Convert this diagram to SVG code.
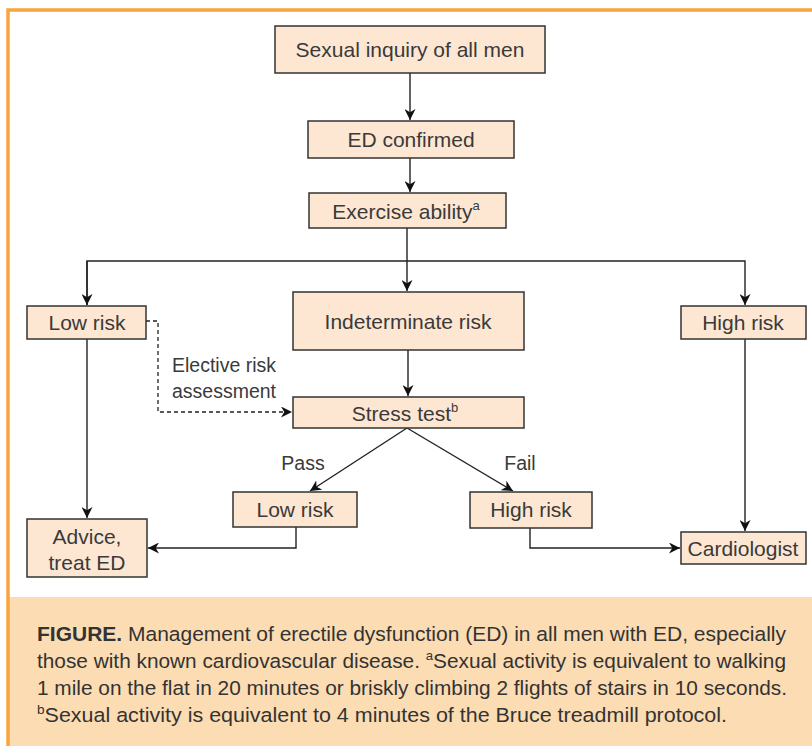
<svg xmlns="http://www.w3.org/2000/svg" width="812" height="746" viewBox="0 0 812 746">
<defs>
<style>
.box{fill:#fde7d2;stroke:#333;stroke-width:1.5}
.t{font-family:"Liberation Sans",Arial,sans-serif;font-size:21px;fill:#3a3a3a;text-anchor:middle}
.lbl{font-family:"Liberation Sans",Arial,sans-serif;font-size:19.5px;fill:#3a3a3a}
.ln{fill:none;stroke:#222;stroke-width:1.4}
.dash{fill:none;stroke:#222;stroke-width:1.3;stroke-dasharray:4 3}
.cap{font-family:"Liberation Sans",Arial,sans-serif;font-size:20.5px;fill:#333}
.sup{font-size:13px}
</style>
<marker id="ah" viewBox="0 0 10 10" refX="10" refY="5" markerWidth="11" markerHeight="11" markerUnits="userSpaceOnUse" orient="auto">
<path d="M0,0 L10,5 L0,10 L3,5 Z" fill="#111"/>
</marker>
</defs>
<rect x="0" y="0" width="812" height="746" fill="#fff"/>
<rect x="9" y="597" width="803" height="149" fill="#fcdcb3"/>
<path d="M8,746 L8,10 L812,10" fill="none" stroke="#f9a43e" stroke-width="3.5"/>

<g id="connectors">
<line class="ln" x1="410" y1="73" x2="410" y2="120" marker-end="url(#ah)"/>
<line class="ln" x1="410" y1="158" x2="410" y2="192" marker-end="url(#ah)"/>
<line class="ln" x1="407" y1="228" x2="407" y2="291" marker-end="url(#ah)"/>
<polyline class="ln" points="87,305 87,261 745,261 745,305" marker-end="url(#ah)"/>
<line class="ln" x1="87" y1="261" x2="87" y2="305" marker-end="url(#ah)"/>
<line class="ln" x1="408" y1="350" x2="408" y2="396" stroke-width="2" marker-end="url(#ah)"/>
<polyline class="dash" points="146,321 158,321 158,412 292,412" marker-end="url(#ah)"/>
<polyline class="ln" points="407,428 310,491" marker-end="url(#ah)"/>
<polyline class="ln" points="407,428 513,491" marker-end="url(#ah)"/>
<line class="ln" x1="87" y1="339" x2="87" y2="518" marker-end="url(#ah)"/>
<line class="ln" x1="745" y1="339" x2="745" y2="531" marker-end="url(#ah)"/>
<polyline class="ln" points="296,527 296,548 148,548" marker-end="url(#ah)"/>
<polyline class="ln" points="530,528 530,548 680,548" marker-end="url(#ah)"/>
</g>

<g id="n_inquiry"><rect class="box" x="275" y="26" width="270" height="47"/><text class="t" x="410" y="57">Sexual inquiry of all men</text></g>
<g id="n_confirmed"><rect class="box" x="308" y="121" width="206" height="37"/><text class="t" x="411" y="147">ED confirmed</text></g>
<g id="n_exercise"><rect class="box" x="309" y="193" width="197" height="35"/><text class="t" x="406" y="219">Exercise ability<tspan class="sup" dy="-9">a</tspan></text></g>
<g id="n_lowrisk"><rect class="box" x="27" y="306" width="119" height="33"/><text class="t" x="87" y="330">Low risk</text></g>
<g id="n_indet"><rect class="box" x="293" y="292" width="231" height="58"/><text class="t" x="408" y="329">Indeterminate risk</text></g>
<g id="n_highrisk"><rect class="box" x="681" y="306" width="125" height="33"/><text class="t" x="743" y="330">High risk</text></g>
<g id="n_stress"><rect class="box" x="293" y="397" width="231" height="31"/><text class="t" x="405" y="421">Stress test<tspan class="sup" dy="-9">b</tspan></text></g>
<g id="n_elective"><text class="lbl" x="172" y="372">Elective risk</text><text class="lbl" x="172" y="398">assessment</text></g>
<g id="n_pass"><text class="lbl" x="303" y="470" text-anchor="middle">Pass</text></g>
<g id="n_fail"><text class="lbl" x="520" y="470" text-anchor="middle">Fail</text></g>
<g id="n_lowrisk2"><rect class="box" x="233" y="492" width="124" height="35"/><text class="t" x="295" y="517">Low risk</text></g>
<g id="n_highrisk2"><rect class="box" x="470" y="492" width="122" height="36"/><text class="t" x="531" y="517">High risk</text></g>
<g id="n_advice"><rect class="box" x="27" y="519" width="120" height="58"/><text class="t" x="87" y="544">Advice,</text><text class="t" x="87" y="570">treat ED</text></g>
<g id="n_cardio"><rect class="box" x="681" y="532" width="125" height="32"/><text class="t" x="743" y="556">Cardiologist</text></g>

<g id="caption">
<text class="cap" x="37" y="641" textLength="749" lengthAdjust="spacingAndGlyphs"><tspan font-weight="bold">FIGURE.</tspan>  Management of erectile dysfunction (ED) in all men with ED, especially</text>
<text class="cap" x="37" y="668" textLength="749" lengthAdjust="spacingAndGlyphs">those with known cardiovascular disease. <tspan class="sup" dy="-8">a</tspan><tspan dy="8">Sexual activity is equivalent to walking</tspan></text>
<text class="cap" x="37" y="695" textLength="750" lengthAdjust="spacingAndGlyphs">1 mile on the flat in 20 minutes or briskly climbing 2 flights of stairs in 10 seconds.</text>
<text class="cap" x="37" y="722" textLength="690" lengthAdjust="spacingAndGlyphs"><tspan class="sup" dy="-8">b</tspan><tspan dy="8">Sexual activity is equivalent to 4 minutes of the Bruce treadmill protocol.</tspan></text>
</g>
</svg>
